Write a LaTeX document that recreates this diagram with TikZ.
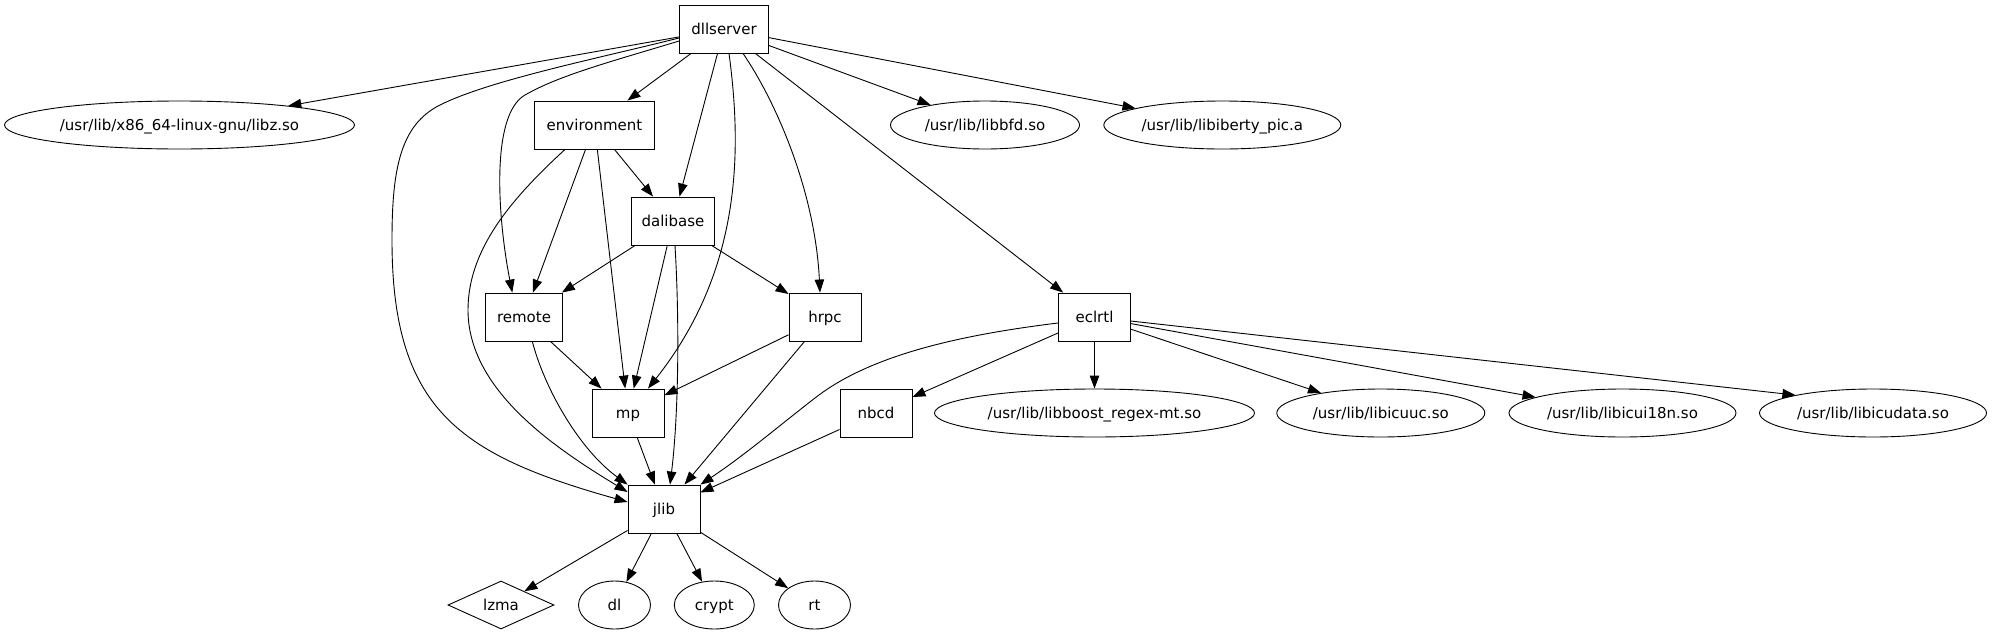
\documentclass[tikz,border=0pt]{standalone}
\usepackage{fontspec}
\setmainfont{DejaVu Sans}
\usetikzlibrary{arrows.meta,shapes.geometric,calc}
\begin{document}
\begin{tikzpicture}[x=1pt,y=-1pt,
  every node/.style={font=\fontsize{15}{18}\selectfont, inner sep=0pt, text height=11pt, text depth=1pt},
  box/.style={draw, line width=0.9pt, rectangle, minimum height=48pt},
  lib/.style={draw, line width=0.9pt, ellipse, minimum height=48pt},
  dia/.style={draw, line width=0.9pt, diamond, aspect=2.2, minimum width=106pt, minimum height=48pt},
  conn/.style={line width=0.9pt, -{Triangle[length=13pt,width=9.5pt]}},
]
\useasboundingbox (0,0) rectangle (1992,635);

% nodes
\node[box, minimum width=89pt]   (dllserver)   at (724,29)    {dllserver};
\node[box, minimum width=120pt]  (environment) at (594.5,125) {environment};
\node[box, minimum width=82.6pt] (dalibase)    at (673,221)   {dalibase};
\node[box, minimum width=77.3pt] (remote)      at (524,317)   {remote};
\node[box, minimum width=72pt]   (hrpc)        at (825,317)   {hrpc};
\node[box, minimum width=72pt]   (eclrtl)      at (1094.5,317) {eclrtl};
\node[box, minimum width=72pt]   (mp)          at (628,413)   {mp};
\node[box, minimum width=72pt]   (nbcd)        at (876,413)   {nbcd};
\node[box, minimum width=72pt]   (jlib)        at (664,509)   {jlib};

\node[lib, minimum width=350pt] (libz)       at (179.5,125)  {/usr/lib/x86\_64-linux-gnu/libz.so};
\node[lib, minimum width=189pt] (libbfd)     at (985,125)    {/usr/lib/libbfd.so};
\node[lib, minimum width=237pt] (libiberty)  at (1222.3,125) {/usr/lib/libiberty\_pic.a};
\node[lib, minimum width=320pt] (libboost)   at (1094.5,413) {/usr/lib/libboost\_regex-mt.so};
\node[lib, minimum width=208pt] (libicuuc)   at (1380.8,413) {/usr/lib/libicuuc.so};
\node[lib, minimum width=227pt] (libicui18n) at (1622.5,413) {/usr/lib/libicui18n.so};
\node[lib, minimum width=227pt] (libicudata) at (1873,413)   {/usr/lib/libicudata.so};

\node[dia] (lzma) at (501,605) {lzma};
\node[lib, minimum width=72pt] (dl)    at (614.5,605) {dl};
\node[lib, minimum width=80pt] (crypt) at (714.3,605) {crypt};
\node[lib, minimum width=72pt] (rt)    at (814.5,605) {rt};

% dllserver edges
\draw[conn] (dllserver) -- (libz);
\draw[conn] (dllserver) -- (environment);
\draw[conn] (dllserver) -- (dalibase);
\draw[conn] (dllserver) -- (libbfd);
\draw[conn] (dllserver) -- (libiberty);
\draw[conn] (dllserver) -- (eclrtl);
\draw[conn] ($(dllserver.south)+(19,0)$) .. controls (775,100) and (815,190) .. ($(hrpc.north)+(-5,0)$);
\draw[conn] ($(dllserver.south)+(5,0)$) .. controls (742,150) and (742,270) .. ($(mp.north)+(20,0)$);
\draw[conn] ($(dllserver.west)+(0,12)$) .. controls (610,62) and (560,75) .. (525,95)
  .. controls (490,115) and (498,220) .. ($(remote.north)+(-11.7,0)$);
\draw[conn] ($(dllserver.west)+(0,9)$) .. controls (600,58) and (490,80) .. (440,105)
  .. controls (400,125) and (392,170) .. (392,240)
  .. controls (392,410) and (460,455) .. ($(jlib.west)+(0,-7)$);

% environment edges
\draw[conn] (environment) -- (dalibase);
\draw[conn] (environment) -- (remote);
\draw[conn] (environment) -- (mp);
\draw[conn] ($(environment.south)+(-29.5,0)$) .. controls (510,200) and (468,250) .. (468,310)
  .. controls (468,390) and (555,448) .. ($(jlib.west)+(0,-17)$);

% dalibase edges
\draw[conn] (dalibase) -- (remote);
\draw[conn] (dalibase) -- (mp);
\draw[conn] (dalibase) -- (hrpc);
\draw[conn] ($(dalibase.south)+(2,0)$) .. controls (680,330) and (678,420) .. ($(jlib.north)+(6,0)$);

% remote edges
\draw[conn] (remote) -- (mp);
\draw[conn] ($(remote.south)+(8.3,0)$) .. controls (545,390) and (580,450) .. (jlib.north west);

% hrpc edges
\draw[conn] (hrpc) -- (mp);
\draw[conn] (hrpc) -- (jlib);

% mp
\draw[conn] (mp) -- (jlib);

% eclrtl edges
\draw[conn] (eclrtl) -- (nbcd);
\draw[conn] ($(eclrtl.west)+(0,6)$) .. controls (960,335) and (870,355) .. (815,398)
  .. controls (780,425) and (745,455) .. (jlib.north east);
\draw[conn] (eclrtl) -- (libboost);
\draw[conn] (eclrtl) -- (libicuuc);
\draw[conn] (eclrtl) -- (libicui18n);
\draw[conn] (eclrtl) -- (libicudata.167);

% nbcd
\draw[conn] (nbcd) -- (jlib);

% jlib edges
\draw[conn] (jlib) -- (lzma);
\draw[conn] (jlib) -- (dl);
\draw[conn] (jlib) -- (crypt);
\draw[conn] (jlib) -- (rt);
\end{tikzpicture}
\end{document}
